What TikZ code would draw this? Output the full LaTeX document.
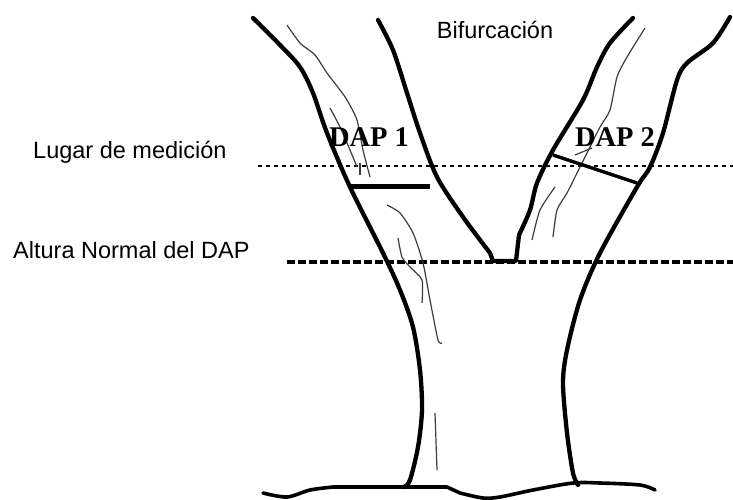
\documentclass[tikz,border=0pt]{standalone}
\usepackage{fontspec}
\setmainfont{Liberation Serif}
\setsansfont{Liberation Sans}
\usepackage{tikz}
\definecolor{treeblack}{RGB}{0,0,0}
\definecolor{barkgray}{RGB}{60,60,60}

\begin{document}
\begin{tikzpicture}[x=1pt, y=-1pt,
    outline/.style={treeblack, line width=4.3pt, line cap=round, line join=round},
    bark/.style={barkgray, line width=1.2pt},
    lbl/.style={inner sep=0pt, font=\sffamily\fontsize{23.5}{26}\selectfont},
    dap/.style={inner sep=0pt, font=\rmfamily\bfseries\fontsize{28.5}{30}\selectfont}]
  \useasboundingbox (0,0) rectangle (733,499);
  % measuring heights
  \draw[treeblack, line width=1.4pt, dash pattern=on 4pt off 4pt] %
    (258,166) -- (733,166);
  \draw[treeblack, line width=3.2pt, dash pattern=on 8pt off 3pt] %
    (287,262) -- (733,262);
  % tree outline
  \draw[outline] plot[smooth, tension=0.5] coordinates {(253,18) (280,45)
    (300,67) (313,93) (327,133) (350,187) (383,253) (400,290) (413,327)
    (420,370) (422,410) (418,447) (410,480) (404,487)};
  \draw[outline] plot[smooth, tension=0.5] coordinates {(730,17) (713,43)
    (687,63) (677,80) (663,133) (650,167) (637,187) (600,253) (580,300)
    (567,350) (563,383) (567,433) (573,473) (578,485)};
  \draw[outline] plot[smooth, tension=0.5] coordinates {(378,20) (393,50)
    (407,93) (420,133) (437,177) (463,217) (490,253)} -- (493,261) %
    -- (516,261) -- plot[smooth, tension=0.5] coordinates {(519,235)
    (530,210) (537,183) (553,150) (583,100) (597,67) (610,43) (633,18)};
  \draw[outline, line width=3.6pt] plot[smooth, tension=0.5] coordinates {
    (263,493) (287,497) (310,490) (333,487)} -- (447,487) %
    -- plot[smooth, tension=0.5] coordinates {(460,493) (483,498) (500,497)
    (533,490) (573,483) (600,483) (640,485) (655,490)};
  % bark lines
  \draw[bark] plot[smooth, tension=0.4] coordinates {(287,25) (300,43)
    (315,55) (327,73) (340,90) (347,100) (357,120) (363,150) (370,177)};
  \draw[bark] plot[smooth, tension=0.4] coordinates {(330,108) (340,127)
    (350,150) (357,167)};
  \draw[bark, line width=2pt] (360,163) -- (360,175);
  \draw[bark] plot[smooth, tension=0.4] coordinates {(387,205) (400,213)
    (413,233) (423,263) (430,300) (438,340) (442,343)};
  \draw[bark] plot[smooth, tension=0.4] coordinates {(398,238) (402,257)
    (410,267) (422,280) (422,303)};
  \draw[bark] (435,413) -- (437,470);
  \draw[bark] plot[smooth, tension=0.4] coordinates {(645,28) (627,57)
    (617,77) (610,110) (600,127) (590,147) (580,167) (567,193) (557,210)
    (553,237)};
  \draw[bark] plot[smooth, tension=0.4] coordinates {(555,187) (540,210)
    (532,240)};
  \draw[bark] (575,155) -- (592,148);
  % measurements
  \draw[treeblack, line width=5pt] (350,186) -- (430,186);
  \draw[treeblack, line width=3.4pt] (553,155) -- (637,183);
  % labels
  \node[lbl] (bif) at (495,30) {Bifurcación};
  \node[lbl, anchor=west] (lugar) at (33,152) {Lugar de medición};
  \node[lbl, anchor=west] (altura) at (13,250) {Altura Normal del DAP};
  \node[dap] (dap1) at (369,137) {DAP 1};
  \node[dap] (dap2) at (615,137) {DAP 2};
\end{tikzpicture}
\end{document}
